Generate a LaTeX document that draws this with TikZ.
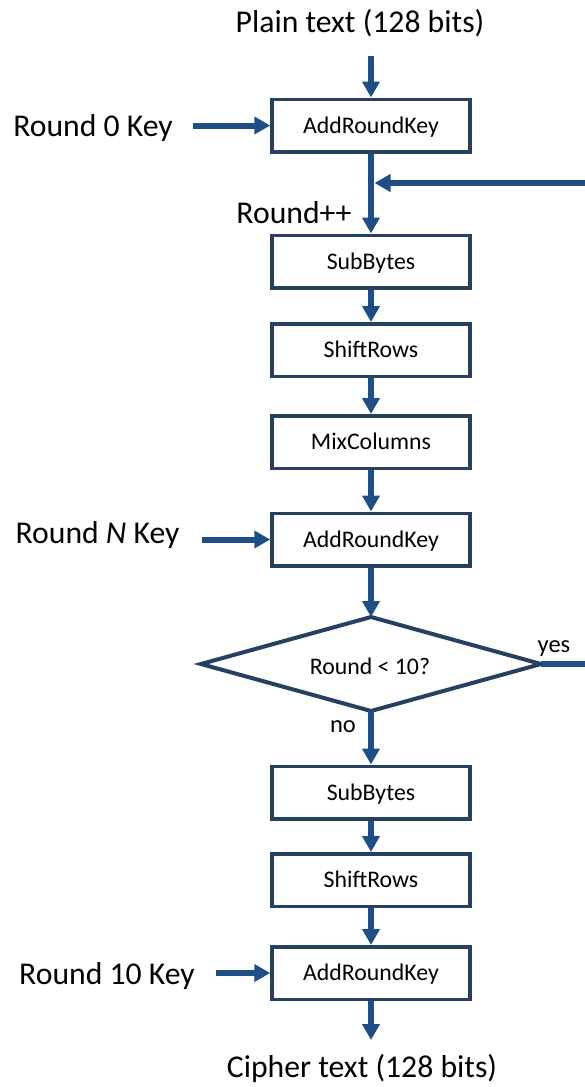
\documentclass[tikz,border=0pt]{standalone}
\usepackage{fontspec}
\setmainfont{Carlito}
\usetikzlibrary{arrows.meta}
\definecolor{flowblue}{RGB}{31,78,135}
\definecolor{boxedge}{RGB}{37,64,97}
\tikzset{
  stage/.style={draw=boxedge, line width=3.5pt, fill=white, rectangle,
    minimum width=198pt, minimum height=52.5pt, inner sep=0pt,
    font=\fontsize{23.8pt}{28pt}\selectfont, text height=15.3pt, text depth=0pt},
  decisionedge/.style={draw=boxedge, line width=4pt, line join=miter, fill=white},
  decisiontext/.style={inner sep=0pt,
    font=\fontsize{23.8pt}{28pt}\selectfont, text height=15.3pt, text depth=0pt},
  biglabel/.style={anchor=base, inner sep=0pt, font=\fontsize{31.7pt}{38pt}\selectfont},
  smalllabel/.style={anchor=base, inner sep=0pt, font=\fontsize{24.5pt}{29pt}\selectfont},
  flow/.style={draw=flowblue, line width=6pt, -{Triangle[width=17pt,length=16pt]}},
  plainline/.style={draw=flowblue, line width=6pt}
}
\begin{document}
\begin{tikzpicture}[x=1pt, y=-1pt]
\useasboundingbox (0,0) rectangle (585,1087);

% text labels
\node[biglabel] (plain)  at (360,32)   {Plain text (128 bits)};
\node[biglabel] (key0)   at (93,136)   {Round 0 Key};
\node[biglabel] (round)  at (294,223)  {Round++};
\node[biglabel] (keyN)   at (97.5,543) {Round \textit{N} Key};
\node[biglabel] (key10)  at (107,984)  {Round 10 Key};
\node[biglabel] (cipher) at (362,1077) {Cipher text (128 bits)};

% processing stages
\node[stage] (ark0)  at (371,125.5) {AddRoundKey};
\node[stage] (sb1)   at (371,261.5) {SubBytes};
\node[stage] (sr1)   at (371,350)   {ShiftRows};
\node[stage] (mc)    at (371,442)   {MixColumns};
\node[stage] (arkN)  at (371,539.5) {AddRoundKey};
\node[stage] (sb2)   at (371,792.5) {SubBytes};
\node[stage] (sr2)   at (371,880)   {ShiftRows};
\node[stage] (ark10) at (371,973)   {AddRoundKey};

% decision diamond
\coordinate (dTop)   at (371,617);
\coordinate (dBot)   at (371,711);
\coordinate (dLeft)  at (201,664);
\coordinate (dRight) at (541,664);
\draw[decisionedge] (dTop) -- (dRight) -- (dBot) -- (dLeft) -- cycle;
\node[decisiontext] (test) at (370,667) {Round < 10?};
\node[smalllabel] (yes)  at (554,652)  {yes};
\node[smalllabel] (no)   at (343,732)  {no};

% loose ends of the connectors
\coordinate (inTop)  at (371,56);
\coordinate (outBot) at (371,1040);
\coordinate (k0)     at (193,125.5);
\coordinate (kN)     at (202,539.5);
\coordinate (k10)    at (216,973);
\coordinate (loopR)  at (585,183);
\coordinate (loopIn) at (374.5,183);
\coordinate (yesR)   at (585,664);

% main flow
\draw[flow] (inTop) -- (ark0.north);
\draw[flow] (ark0.south) -- (sb1.north);
\draw[flow] (sb1.south) -- (sr1.north);
\draw[flow] (sr1.south) -- (mc.north);
\draw[flow] (mc.south) -- (arkN.north);
\draw[flow] (arkN.south) -- (dTop);
\draw[flow] (dBot) -- (sb2.north);
\draw[flow] (sb2.south) -- (sr2.north);
\draw[flow] (sr2.south) -- (ark10.north);
\draw[flow] (ark10.south) -- (outBot);

% round keys
\draw[flow] (k0) -- (ark0.west);
\draw[flow] (kN) -- (arkN.west);
\draw[flow] (k10) -- (ark10.west);

% loop back
\draw[plainline] (dRight) -- (yesR);
\draw[flow] (loopR) -- (loopIn);
\end{tikzpicture}
\end{document}
